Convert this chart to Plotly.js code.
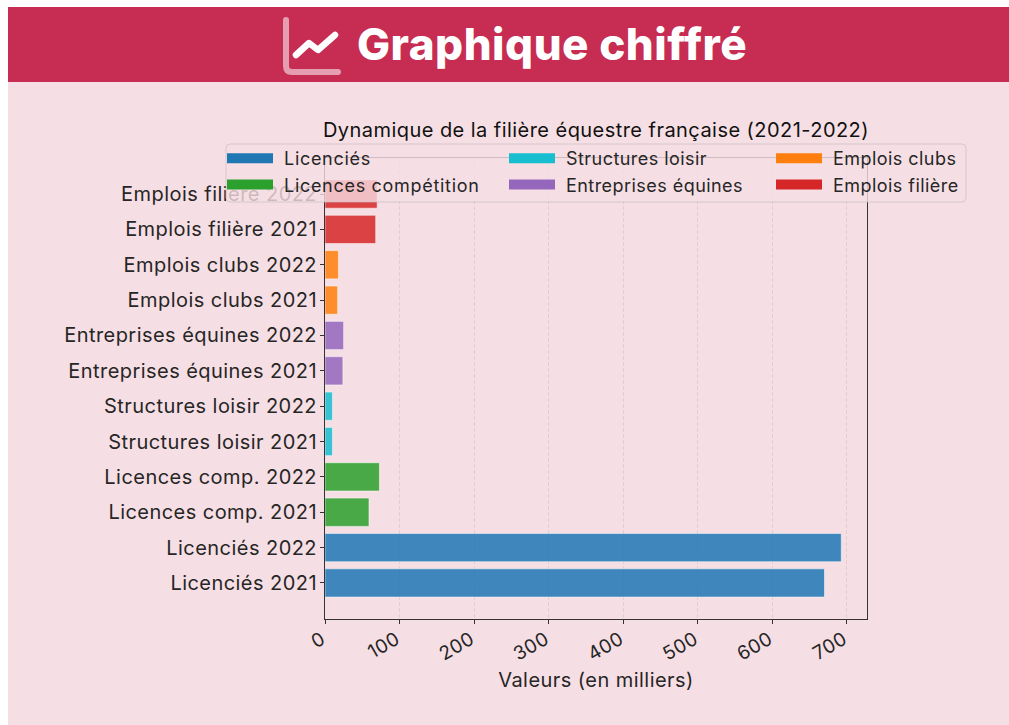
<!DOCTYPE html>
<html><head><meta charset="utf-8">
<script src="https://cdn.plot.ly/plotly-3.0.1.min.js"></script>
<style>
html,body{margin:0;padding:0;background:#fff;width:1009px;height:725px;overflow:hidden}
#panel{position:absolute;left:8px;top:7px;width:1001px;height:718px;background:#F6DFE4}
#head{position:absolute;left:8px;top:7px;width:1001px;height:75px;background:#C72C52}
#head svg{position:absolute;left:272px;top:9px}
#head span{position:absolute;left:349px;top:9px;font:800 44px/56px Inter,sans-serif;letter-spacing:.5px;color:#fff;white-space:nowrap}
#chart{position:absolute;left:0;top:0;width:1009px;height:725px}
svg text{letter-spacing:.45px}
svg text.legendtext{letter-spacing:.7px}
#chart .legendlines path{stroke-dasharray:46px 200px !important}
</style></head><body>
<div id="panel"></div>
<div id="head"><svg width="66" height="62" viewBox="0 0 66 62"><path d="M6 4V50Q6 56 12 56H58" fill="none" stroke="#E59DB0" stroke-width="6" stroke-linecap="round"/><path d="M16 39L29 27L38 34L55 19" fill="none" stroke="#fff" stroke-width="6.5" stroke-linecap="round" stroke-linejoin="round"/></svg><span>Graphique chiffré</span></div>
<div id="chart"></div>
<script>
const categories=["Licenciés 2021","Licenciés 2022","Licences comp. 2021","Licences comp. 2022","Structures loisir 2021","Structures loisir 2022","Entreprises équines 2021","Entreprises équines 2022","Emplois clubs 2021","Emplois clubs 2022","Emplois filière 2021","Emplois filière 2022"];
const licencies=[670,692.5];
const licencesComp=[59,73];
const structures=[10,10];
const entreprises=[24,25];
const clubs=[17,18];
const filiere=[68,70];
const seriesNames=["Licenciés","Licences compétition","Structures loisir","Entreprises équines","Emplois clubs","Emplois filière"];
const seriesValues=[licencies,licencesComp,structures,entreprises,clubs,filiere];
const seriesColors=["#1f77b4","#2ca02c","#17becf","#9467bd","#ff7f0e","#d62728"];
const legendIds=["legend","legend","legend2","legend2","legend3","legend3"];
const xTicks=[0,100,200,300,400,500,600,700];
const W=1009,H=725,L=325,R=867,T=158,B=619;
const font="Inter, sans-serif", ink="#262626";
const px=x=>(x-L)/(R-L), py=y=>(B-y)/(B-T);
const traces=[];
seriesNames.forEach((n,i)=>{
  traces.push({type:"bar",orientation:"h",name:n,x:seriesValues[i],y:categories.slice(i*2,i*2+2),width:0.8,showlegend:false,
    marker:{color:seriesColors[i],opacity:0.85,line:{color:"rgba(255,255,255,0.55)",width:1}},hoverinfo:"x+y"});
});
seriesNames.forEach((n,i)=>{
  traces.push({type:"scatter",mode:"lines",name:n,x:[null],y:[null],line:{color:seriesColors[i],width:11},legend:legendIds[i],showlegend:true,hoverinfo:"skip"});
});
const leg=(x)=>({x:px(x),y:py(140),xanchor:"left",yanchor:"top",bgcolor:"rgba(0,0,0,0)",borderwidth:0,itemwidth:52,itemsizing:"trace",font:{family:font,size:18,color:ink},tracegroupgap:0});
const rr=(x0,y0,x1,y1,r)=>`M${px(x0+r)},${py(y0)}L${px(x1-r)},${py(y0)}Q${px(x1)},${py(y0)} ${px(x1)},${py(y0+r)}L${px(x1)},${py(y1-r)}Q${px(x1)},${py(y1)} ${px(x1-r)},${py(y1)}L${px(x0+r)},${py(y1)}Q${px(x0)},${py(y1)} ${px(x0)},${py(y1-r)}L${px(x0)},${py(y0+r)}Q${px(x0)},${py(y0)} ${px(x0+r)},${py(y0)}Z`;
const layout={width:W,height:H,paper_bgcolor:"rgba(0,0,0,0)",plot_bgcolor:"rgba(0,0,0,0)",barmode:"overlay",showlegend:true,
  margin:{l:L,r:W-R,t:T,b:H-B,pad:0},font:{family:font,color:ink},
  title:{text:"Dynamique de la filière équestre française (2021-2022)",font:{family:font,size:20,color:"#111"},x:596/W,xanchor:"center",y:1-130/H,yanchor:"middle"},
  xaxis:{range:[0,727],tickvals:xTicks,ticktext:xTicks.map(String),tickangle:-30,ticks:"outside",ticklen:4,tickcolor:"#333",tickfont:{family:font,size:19,color:ink},ticklabelshift:-3,ticklabelstandoff:-3,
    showgrid:true,gridcolor:"rgba(120,120,120,0.16)",griddash:"4px,2px",gridwidth:1,zeroline:false,showline:true,linecolor:"#333",linewidth:1,mirror:true,
    title:{text:"Valeurs (en milliers)",font:{family:font,size:20,color:ink},standoff:8}},
  yaxis:{type:"category",categoryorder:"array",categoryarray:categories,range:[-1.02,12.02],ticks:"outside",ticklen:4,tickcolor:"#333",tickfont:{family:font,size:20,color:ink},ticklabelstandoff:-1,
    showgrid:false,zeroline:false,showline:true,linecolor:"#333",linewidth:1,mirror:true},
  legend:leg(222),legend2:leg(504),legend3:leg(771),
  shapes:[{type:"path",xref:"paper",yref:"paper",layer:"above",path:rr(226,144,966,202,4),fillcolor:"rgba(246,223,228,0.8)",line:{color:"rgba(200,190,195,0.7)",width:1}}]
};
Plotly.newPlot("chart",traces,layout,{displayModeBar:false,staticPlot:true});
</script></body></html>
